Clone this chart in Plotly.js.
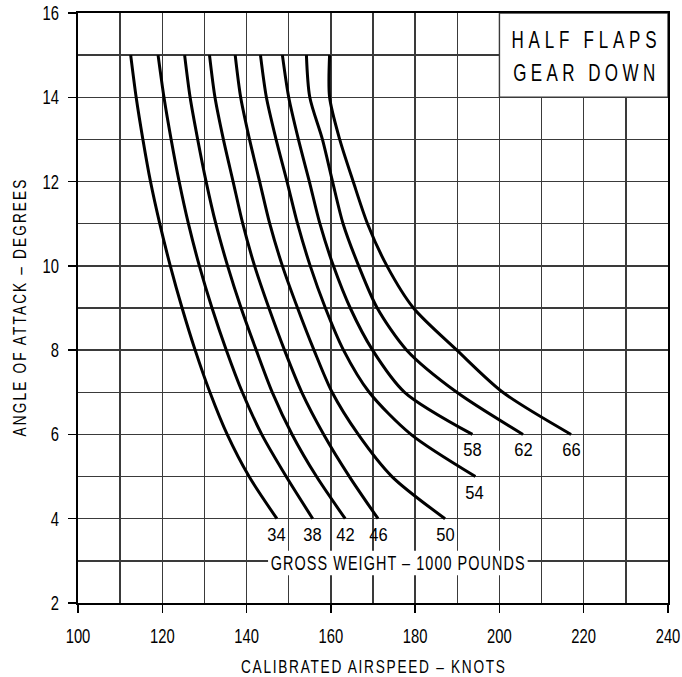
<!DOCTYPE html>
<html>
<head>
<meta charset="utf-8">
<script src="https://cdn.plot.ly/plotly-3.0.1.min.js"></script>
<style>
  html, body { margin: 0; padding: 0; background: #fff; }
  #chart { width: 682px; height: 677px; }
</style>
</head>
<body>
<div id="chart"></div>
<script>
// Angle of attack levels (degrees) at which each curve is sampled, top to bottom
const angleLevels = [15, 14, 13, 12, 11, 10, 9, 8, 7, 6, 5, 4];

// Gross weight labels (1000 lb)
const weightLabels = ['34', '38', '42', '46', '50', '54', '58', '62', '66'];

// Calibrated airspeed (knots) for each gross weight at the angle levels above
const speed34 = [112.5, 113.8, 115.4, 117.2, 119.4, 121.9, 124.7, 127.8, 131.3, 135.4, 140.6, 147.2];
const speed38 = [119.0, 120.4, 122.1, 124.0, 126.2, 128.8, 131.8, 135.2, 139.0, 143.6, 149.4, 155.7];
const speed42 = [125.3, 126.6, 128.4, 130.4, 132.7, 135.5, 138.7, 142.3, 146.1, 150.8, 156.6, 163.4];
const speed46 = [131.2, 132.5, 134.5, 136.8, 139.1, 141.9, 145.3, 149.0, 153.1, 158.3, 164.4, 171.2];
const speed50 = [137.3, 138.6, 140.7, 143.1, 145.5, 148.5, 152.1, 156.0, 160.3, 166.5, 174.5, 187.1];
const speed54 = [143.3, 144.7, 147.0, 149.6, 152.1, 155.1, 158.7, 163.0, 169.1, 179.0, 194.3];
const speed58 = [148.5, 150.0, 152.3, 154.9, 157.4, 160.6, 164.6, 169.9, 177.5, 193.6];
const speed62 = [154.2, 155.0, 158.0, 160.4, 162.9, 166.6, 171.0, 178.0, 189.9, 205.6];
const speed66 = [159.7, 159.7, 162.1, 165.3, 168.7, 173.3, 179.6, 189.9, 200.8, 217.0];

const speedSeries = [speed34, speed38, speed42, speed46, speed50, speed54, speed58, speed62, speed66];

// Axis tick labels
const xTickVals = [100, 120, 140, 160, 180, 200, 220, 240];
const yTickVals = [2, 4, 6, 8, 10, 12, 14, 16];

const FONT = '"Liberation Sans", Arial, sans-serif';
const GRID = '#3a3a3a';
const NARROW = 0.74;        // horizontal squeeze giving the condensed lettering
const LABEL_NARROW = 0.87;  // lighter squeeze for the curve weight labels

const traces = speedSeries.map((speeds, i) => ({
  type: 'scatter',
  mode: 'lines',
  name: weightLabels[i],
  x: speeds,
  y: angleLevels.slice(0, speeds.length),
  line: { color: '#000', width: 3, shape: 'spline', smoothing: 0.8 },
  hoverinfo: 'skip',
  showlegend: false
}));

// Weight label under the lower end of each curve
const curveLabels = speedSeries.map((speeds, i) => ({
  x: speeds[speeds.length - 1],
  y: angleLevels[speeds.length - 1],
  xref: 'x', yref: 'y',
  text: weightLabels[i],
  showarrow: false,
  xanchor: 'center',
  yanchor: 'top',
  yshift: -3,
  font: { family: FONT, size: 19, color: '#000' }
}));

const annotations = [
  {
    x: 220, y: 15.36, xref: 'x', yref: 'y',
    text: 'HALF FLAPS',
    showarrow: false, xanchor: 'center', yanchor: 'middle',
    font: { family: FONT, size: 23, color: '#000' }
  },
  {
    x: 220, y: 14.58, xref: 'x', yref: 'y',
    text: 'GEAR DOWN',
    showarrow: false, xanchor: 'center', yanchor: 'middle',
    font: { family: FONT, size: 23, color: '#000' }
  },
  {
    x: 175.9, y: 2.94, xref: 'x', yref: 'y',
    text: 'GROSS WEIGHT – 1000 POUNDS',
    showarrow: false, xanchor: 'center', yanchor: 'middle',
    font: { family: FONT, size: 19.5, color: '#000' }
  }
].concat(curveLabels);

const layout = {
  width: 682,
  height: 677,
  margin: { l: 78, r: 14, t: 13, b: 74 },
  paper_bgcolor: '#fff',
  plot_bgcolor: '#fff',
  showlegend: false,
  font: { family: FONT, size: 20, color: '#000' },
  xaxis: {
    range: [100, 240],
    tickvals: xTickVals,
    ticks: 'outside', ticklen: 8, tickwidth: 1.5, tickcolor: '#000',
    ticklabelstandoff: 6,
    ticklabeloverflow: 'allow',
    showline: true, linecolor: '#000', linewidth: 2, mirror: true,
    showgrid: true, gridcolor: GRID, gridwidth: 1.4,
    minor: { dtick: 10, showgrid: true, gridcolor: GRID, gridwidth: 1.4 },
    zeroline: false,
    tickfont: { family: FONT, size: 20, color: '#000' },
    title: { text: 'CALIBRATED AIRSPEED – KNOTS', standoff: 14,
             font: { family: FONT, size: 18.5, color: '#000' } }
  },
  yaxis: {
    range: [2, 16],
    tickvals: yTickVals,
    ticks: 'outside', ticklen: 8, tickwidth: 1.5, tickcolor: '#000',
    ticklabelstandoff: 5,
    ticklabeloverflow: 'allow',
    showline: true, linecolor: '#000', linewidth: 2, mirror: true,
    showgrid: true, gridcolor: GRID, gridwidth: 1.4,
    minor: { dtick: 1, showgrid: true, gridcolor: GRID, gridwidth: 1.4 },
    zeroline: false,
    tickfont: { family: FONT, size: 20, color: '#000' },
    title: { text: 'ANGLE OF ATTACK – DEGREES', standoff: 5,
             font: { family: FONT, size: 18.5, color: '#000' } }
  },
  shapes: [
    {
      // blank panel holding the configuration note
      type: 'rect', xref: 'x', yref: 'y',
      x0: 200, x1: 240, y0: 14, y1: 16,
      fillcolor: '#fff', line: { color: GRID, width: 1.4 },
      layer: 'above'
    },
    {
      // gap in the grid behind the gross weight caption
      type: 'rect', xref: 'x', yref: 'y',
      x0: 145.1, x1: 206.7, y0: 2.66, y1: 3.24,
      fillcolor: '#fff', line: { width: 0 },
      layer: 'above'
    }
  ],
  annotations: annotations
};

// Squeeze a text element horizontally about its anchor point and, when a
// target width is given, open up the letter spacing to reach it.
function condense(el, scale, targetWidth) {
  const x = parseFloat(el.getAttribute('x') || '0');
  const y = parseFloat(el.getAttribute('y') || '0');
  let shift = 0;
  if (targetWidth) {
    const n = el.textContent.length;
    const w = el.getComputedTextLength();
    const ls = (targetWidth / scale - w) / Math.max(n - 1, 1);
    el.style.letterSpacing = ls.toFixed(2) + 'px';
    // spacing is also added after the last glyph; recentre for that
    shift = ls / 2;
  }
  const base = el.getAttribute('transform') || '';
  el.setAttribute('transform',
    base + ` translate(${x},${y}) scale(${scale},1) translate(${-x + shift},${-y})`);
}

Plotly.newPlot('chart', traces, layout, { displayModeBar: false, staticPlot: true }).then(gd => {
  gd.querySelectorAll('.xtick text, .ytick text').forEach(t => condense(t, NARROW));
  const xt = gd.querySelector('.g-xtitle text');
  if (xt) condense(xt, NARROW, 264);
  const yt = gd.querySelector('.g-ytitle text');
  if (yt) condense(yt, NARROW, 257);
  const targets = { 0: 145, 1: 142, 2: 254 };
  gd.querySelectorAll('g.annotation').forEach(g => {
    const idx = parseInt(g.getAttribute('data-index'), 10);
    const t = g.querySelector('text');
    if (!t) return;
    if (targets[idx]) condense(t, NARROW, targets[idx]);
    else condense(t, LABEL_NARROW);
  });
});
</script>
</body>
</html>
